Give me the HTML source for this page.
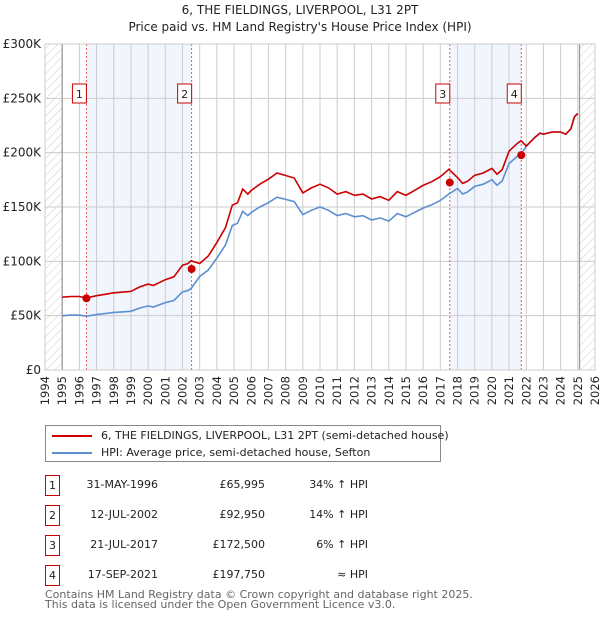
<!DOCTYPE html>
<html><head><meta charset="utf-8">
<style>
body{margin:0;width:600px;height:620px;background:#fff;font-family:"DejaVu Sans","Liberation Sans",sans-serif;position:relative;overflow:hidden}
svg{position:absolute;left:0;top:0}
svg text{font-family:"DejaVu Sans","Liberation Sans",sans-serif}
</style></head>
<body>
<svg id="c" width="600" height="620"></svg>
<script>
const hpiYears=[1995,1995.5,1996,1996.4,1997,1997.5,1998,1998.5,1999,1999.5,2000,2000.3,2001,2001.5,2002,2002.3,2002.5,2003,2003.5,2004,2004.5,2004.9,2005.2,2005.5,2005.8,2006,2006.5,2007,2007.5,2008,2008.5,2009,2009.5,2010,2010.5,2011,2011.5,2012,2012.5,2013,2013.5,2014,2014.5,2015,2015.5,2016,2016.5,2017,2017.5,2018,2018.3,2018.6,2019,2019.5,2020,2020.3,2020.6,2021,2021.5,2021.7,2022,2022.5,2022.8,2023,2023.5,2024,2024.3,2024.6,2024.8,2025];
const hpiValues=[50,50.5,50.5,49.5,51,52,53,53.5,54,57,59,58,62,64,72,73,75,86,92,103,115,133,135,146,142,145,150,154,159,157,155,143,147,150,147,142,144,141,142,138,140,137,144,141,145,149,152,156,162,167,162,164,169,171,175,170,174,190,197,199,206,214,218,217,219,219,217,222,233,236];
const saleYears=[1996.41,2002.53,2017.55,2021.71];
const salePrices=[65.995,92.95,172.5,197.75];
const saleFactors=[1.34,1.14,1.06,1.0];
const saleLabels=["1","2","3","4"];
const yTicks=[0,50,100,150,200,250,300];
const yTickLabels=["£0","£50K","£100K","£150K","£200K","£250K","£300K"];
const NS="http://www.w3.org/2000/svg";
const svg=document.getElementById('c');
const L=45,R=595,T=44,B=370;
const x=y=>L+(y-1994)/32*(R-L);
const yv=v=>B-v/300*(B-T);
function el(t,a,p){const e=document.createElementNS(NS,t);for(const k in a)e.setAttribute(k,a[k]);(p||svg).appendChild(e);return e;}
function tx(s,a){const e=el('text',a);e.textContent=s;return e;}
const defs=el('defs',{});
const pat=el('pattern',{id:'h',width:6,height:6,patternUnits:'userSpaceOnUse',patternTransform:'rotate(45)'},defs);
el('line',{x1:0,y1:0,x2:0,y2:6,stroke:'#ccc','stroke-width':1},pat);
let t=tx('6, THE FIELDINGS, LIVERPOOL, L31 2PT',{x:300,y:14,'text-anchor':'middle','font-size':12,fill:'#222'});

t=tx("Price paid vs. HM Land Registry's House Price Index (HPI)",{x:300,y:31,'text-anchor':'middle','font-size':12,fill:'#222'});

let r=el('rect',{x:x(saleYears[0]),y:T,width:x(saleYears[1])-x(saleYears[0]),height:B-T,fill:'#eef3fc',opacity:0.8});

r=el('rect',{x:x(saleYears[2]),y:T,width:x(saleYears[3])-x(saleYears[2]),height:B-T,fill:'#eef3fc',opacity:0.8});

r=el('rect',{x:L,y:T,width:x(1995)-L,height:B-T,fill:'url(#h)'});

r=el('rect',{x:x(2025.1),y:T,width:R-x(2025.1),height:B-T,fill:'url(#h)'});

for(let yr=1994;yr<=2026;yr++){
 const g=el('line',{x1:x(yr),x2:x(yr),y1:T,y2:B,stroke:'#ccc','stroke-width':1});
 
 const l=tx(String(yr),{transform:`translate(${x(yr)+4},${B+6}) rotate(-90)`,'text-anchor':'end','font-size':11.5,fill:'#222'});
 
}
yTicks.forEach((v,i)=>{
 const g=el('line',{x1:L,x2:R,y1:yv(v),y2:yv(v),stroke:'#ccc','stroke-width':1});
 
 const l=tx(yTickLabels[i],{x:L-4,y:yv(v)+4,'text-anchor':'end','font-size':12,fill:'#222'});
 
});
el('line',{x1:x(1995),x2:x(1995),y1:T,y2:B,stroke:'#999','stroke-width':1.2});
el('line',{x1:x(2025.1),x2:x(2025.1),y1:T,y2:B,stroke:'#999','stroke-width':1.2});
saleYears.forEach((s,i)=>{
 const v=el('line',{x1:x(s),x2:x(s),y1:T,y2:B,stroke:'#e55','stroke-width':1,'stroke-dasharray':'2,2'});
 
 const b=el('rect',{x:x(s)-14,y:84,width:14,height:19,fill:'#fff',stroke:'#c00','stroke-width':1});
 
 const l=tx(saleLabels[i],{x:x(s)-7,y:98,'text-anchor':'middle','font-size':11,fill:'#222'});
 
});
const hp=hpiYears.map((y,i)=>`${i?'L':'M'}${x(y).toFixed(1)},${yv(hpiValues[i]).toFixed(1)}`).join('');
let p=el('path',{d:hp,fill:'none',stroke:'#5b8fd0','stroke-width':1.6});

function factor(y){if(y<saleYears[1])return saleFactors[0];if(y<saleYears[2])return saleFactors[1];if(y<saleYears[3])return saleFactors[2];return saleFactors[3];}
const rp=hpiYears.map((y,i)=>`${i?'L':'M'}${x(y).toFixed(1)},${yv(hpiValues[i]*factor(y)).toFixed(1)}`).join('');
p=el('path',{d:rp,fill:'none',stroke:'#cc0000','stroke-width':1.6});

saleYears.forEach((s,i)=>{
 const d=el('circle',{cx:x(s),cy:yv(salePrices[i]),r:4,fill:'#cc0000'});
 
});
el('rect',{x:L,y:T,width:R-L,height:B-T,fill:'none',stroke:'#ccc','stroke-width':1});
</script>
<div style="position:absolute;left:45px;top:425px;width:394px;height:35px;border:1px solid #888;font-size:11px;color:#222">
 <div style="position:absolute;left:6px;top:9px;width:40px;height:2px;background:#cc0000"></div>
 <div style="position:absolute;left:55px;top:3px;white-space:nowrap">6, THE FIELDINGS, LIVERPOOL, L31 2PT (semi-detached house)</div>
 <div style="position:absolute;left:6px;top:26px;width:40px;height:2px;background:#5b8fd0"></div>
 <div style="position:absolute;left:55px;top:20px;white-space:nowrap">HPI: Average price, semi-detached house, Sefton</div>
</div>
<div style="position:absolute;left:0;top:0;font-size:11px;color:#222">
 <div>
  <div style="position:absolute;left:45px;top:475px;width:13px;height:19px;border:1px solid #c00;text-align:center;line-height:19px">1</div>
  <div style="position:absolute;left:50px;top:478px;width:108px;text-align:right">31-MAY-1996</div>
  <div style="position:absolute;left:180px;top:478px;width:85px;text-align:right">£65,995</div>
  <div style="position:absolute;left:290px;top:478px;width:78px;text-align:right">34% ↑ HPI</div>
 </div>
 <div>
  <div style="position:absolute;left:45px;top:505px;width:13px;height:19px;border:1px solid #c00;text-align:center;line-height:19px">2</div>
  <div style="position:absolute;left:50px;top:508px;width:108px;text-align:right">12-JUL-2002</div>
  <div style="position:absolute;left:180px;top:508px;width:85px;text-align:right">£92,950</div>
  <div style="position:absolute;left:290px;top:508px;width:78px;text-align:right">14% ↑ HPI</div>
 </div>
 <div>
  <div style="position:absolute;left:45px;top:535px;width:13px;height:19px;border:1px solid #c00;text-align:center;line-height:19px">3</div>
  <div style="position:absolute;left:50px;top:538px;width:108px;text-align:right">21-JUL-2017</div>
  <div style="position:absolute;left:180px;top:538px;width:85px;text-align:right">£172,500</div>
  <div style="position:absolute;left:290px;top:538px;width:78px;text-align:right">6% ↑ HPI</div>
 </div>
 <div>
  <div style="position:absolute;left:45px;top:565px;width:13px;height:19px;border:1px solid #c00;text-align:center;line-height:19px">4</div>
  <div style="position:absolute;left:50px;top:568px;width:108px;text-align:right">17-SEP-2021</div>
  <div style="position:absolute;left:180px;top:568px;width:85px;text-align:right">£197,750</div>
  <div style="position:absolute;left:290px;top:568px;width:78px;text-align:right">≈ HPI</div>
 </div>
</div>
<div style="position:absolute;left:45px;top:590px;font-size:11px;color:#666;line-height:10px;white-space:nowrap">Contains HM Land Registry data © Crown copyright and database right 2025.<br>This data is licensed under the Open Government Licence v3.0.</div>
</body></html>
